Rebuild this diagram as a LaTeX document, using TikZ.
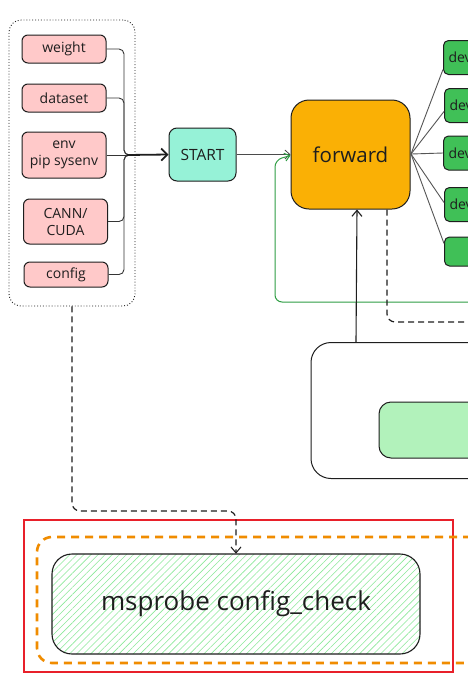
\documentclass[tikz,border=0pt]{standalone}
\usepackage{fontspec}
\setmainfont{Open Sans}
\usetikzlibrary{arrows.meta,patterns.meta}
\definecolor{ink}{HTML}{1E1E1E}
\definecolor{pinkf}{HTML}{FFC9C9}
\definecolor{startf}{HTML}{96F2D7}
\definecolor{fwdf}{HTML}{FAB005}
\definecolor{devf}{HTML}{40C057}
\definecolor{lgreen}{HTML}{B2F2BB}
\definecolor{hatchc}{HTML}{8CE99A}
\definecolor{redc}{HTML}{E8202A}
\definecolor{orangec}{HTML}{F08C00}
\definecolor{greenl}{HTML}{2F9E44}
\begin{document}
\begin{tikzpicture}[x=1pt,y=-1pt,
  box/.style={draw=ink, line width=1pt, rounded corners=6pt, inner sep=0pt, align=center, text=ink},
  pinkbox/.style={box, fill=pinkf, minimum width=84pt, font=\fontsize{14}{17}\selectfont},
  devbox/.style={box, fill=devf, minimum width=60pt, minimum height=34pt, rounded corners=5pt, anchor=west, text width=52pt, align=left, inner xsep=5pt, font=\fontsize{14}{16}\selectfont},
  bracket/.style={draw=ink!90, line width=0.9pt, rounded corners=5pt},
  bigarrow/.style={draw=ink, line width=1.8pt, -{Straight Barb[length=6pt,width=12pt,line width=1.8pt]}},
  thinarrow/.style={draw=ink!80, line width=0.8pt, -{Straight Barb[length=5pt,width=9pt]}},
  fan/.style={draw=ink!75, line width=0.9pt},
  dashline/.style={draw=ink, line width=1.2pt, dash pattern=on 6pt off 4pt, rounded corners=8pt},
]
\useasboundingbox (0,0) rectangle (468,681);
\clip (0,0) rectangle (468,681);
\fill[white] (0,0) rectangle (468,681);

% input container
\node[draw=ink, dotted, line width=0.9pt, rounded corners=12pt, minimum width=126pt, minimum height=286pt, inner sep=0pt] (cont) at (72,163) {};
\node[pinkbox, minimum height=28pt] (weight) at (64,49) {weight};
\node[pinkbox, minimum height=28pt] (dataset) at (64,98) {dataset};
\node[pinkbox, minimum height=46pt] (env) at (64,155) {env\\pip sysenv};
\node[pinkbox, minimum height=45pt] (cann) at (65.5,221.5) {CANN/\\CUDA};
\node[pinkbox, minimum height=25pt] (config) at (66,274.5) {config};

\node[box, fill=startf, minimum width=67pt, minimum height=53pt, rounded corners=8pt, font=\fontsize{15.5}{18}\selectfont] (start) at (202.5,154.5) {START};
\node[box, fill=fwdf, minimum width=119pt, minimum height=109pt, rounded corners=18pt, font=\fontsize{20.5}{24}\selectfont] (forward) at (350.5,154.5) {forward};

\coordinate (merge) at (127,155);
\draw[bracket] (weight.east) -- (124,49) -- (124,155) -- (merge);
\draw[bracket] (dataset.east) -- (124,98) -- (124,155) -- (merge);
\draw[bracket] (env.east) -- (merge);
\draw[bracket] (cann.east) -- (124,221.5) -- (124,155) -- (merge);
\draw[bracket] (config.east) -- (124,274.5) -- (124,155) -- (merge);
\draw[bigarrow] (merge) -- (start.west);

\draw[thinarrow] (start.east) -- (forward.west);
\coordinate (greenstart) at (480,302);
\draw[draw=greenl, line width=1pt, rounded corners=7pt, -{Straight Barb[length=5pt,width=8pt]}] (greenstart) -- (275,302) -- (275,160) -- ([yshift=-1pt]forward.west);

% device boxes
\node[devbox] (d1) at (443,57.5) {dev};
\node[devbox] (d2) at (444,105.5) {dev};
\node[devbox] (d3) at (443,153) {dev};
\node[devbox] (d4) at (444,204.5) {dev};
\node[devbox, minimum height=29pt] (d5) at (444,251.5) {};
\coordinate (fo) at (411,154);
\draw[fan] (fo) -- ([yshift=-12pt]d1.west);
\draw[fan] (fo) -- ([yshift=-6pt]d2.west);
\draw[fan] (fo) -- (d3.west);
\draw[fan] (fo) -- ([yshift=2pt]d4.west);
\draw[fan] (fo) -- ([yshift=8pt]d5.west);

% dashed from forward
\coordinate (dashend) at (480,322);
\draw[dashline] ([xshift=36.5pt]forward.south) -- (387,322) -- (dashend);

% lower right box
\node[draw=ink, line width=1pt, rounded corners=20pt, minimum width=249pt, minimum height=136pt, inner sep=0pt] (bigbox) at (435.5,410.5) {};
\node[draw=ink, fill=lgreen, line width=1pt, rounded corners=12pt, minimum width=142pt, minimum height=56pt, inner sep=0pt] (lg) at (450,430) {};
\draw[draw=ink, line width=1.1pt, -{Straight Barb[length=6pt,width=10pt,line width=1.1pt]}] ([xshift=45.5pt]bigbox.north west) -- ([xshift=6.5pt]forward.south);

% bottom frame
\node[draw=redc, line width=1.4pt, minimum width=429pt, minimum height=152pt, inner sep=0pt] (frame) at (238.5,596) {};
\node[draw=orangec, line width=2.6pt, dash pattern=on 8pt off 6pt, rounded corners=15pt, minimum width=463pt, minimum height=126pt, inner sep=0pt] (orange) at (268.5,600) {};
\node[draw=ink, line width=1.1pt, rounded corners=20pt, minimum width=368pt, minimum height=100pt, inner sep=0pt, pattern={Lines[angle=45,distance=5pt,line width=0.6pt]}, pattern color=hatchc, text=ink, font=\fontsize{26}{30}\selectfont] (check) at (236,604) {msprobe config\_check};

\draw[dashline, -{Straight Barb[length=6pt,width=10pt,line width=1pt]}] (cont.south) -- (72,511) -- (236,511) -- (check.north);
\end{tikzpicture}
\end{document}
